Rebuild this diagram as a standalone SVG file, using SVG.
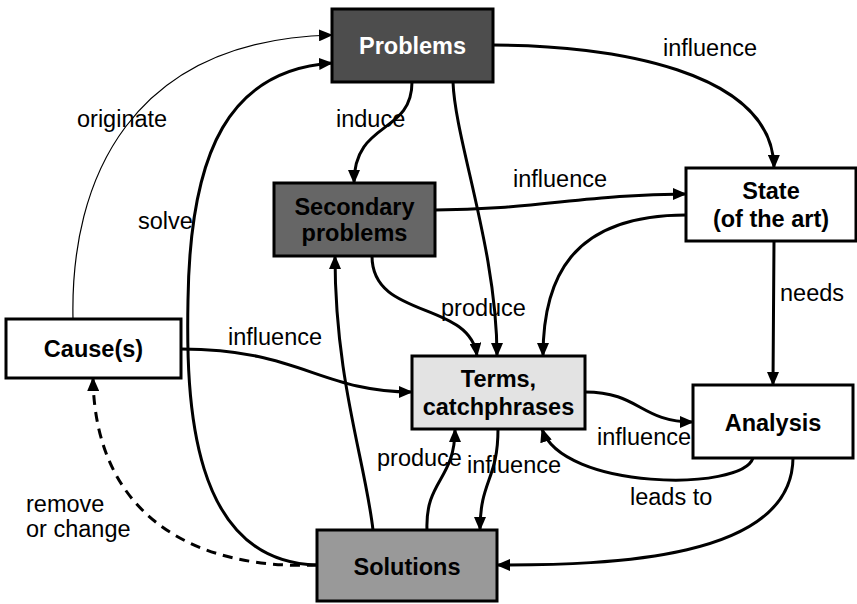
<svg xmlns="http://www.w3.org/2000/svg" width="857" height="604" viewBox="0 0 857 604">
  <defs>
    <marker id="arrow" viewBox="0 0 14 12" refX="13" refY="6" markerWidth="14" markerHeight="12" markerUnits="userSpaceOnUse" orient="auto">
      <path d="M0,0 L14,6 L0,12 Z" fill="#000"/>
    </marker>
    <style>
      .node rect { stroke: #000; stroke-width: 3; }
      .node text { font-family: "Liberation Sans", Arial, sans-serif; font-size: 23.5px; font-weight: bold; text-anchor: middle; fill: #000; }
      .edge { fill: none; stroke: #000; stroke-width: 3; marker-end: url(#arrow); }
      .thin { stroke-width: 1.2; }
      .dashed { stroke-dasharray: 10 7; }
      .label { font-family: "Liberation Sans", Arial, sans-serif; font-size: 23.5px; fill: #000; }
    </style>
  </defs>

  <rect width="857" height="604" fill="#fff"/>

  <!-- labels -->
  <g id="labels">
    <text class="label" x="663" y="56">influence</text>
    <text class="label" x="77" y="127">originate</text>
    <text class="label" x="336" y="127">induce</text>
    <text class="label" x="513" y="187">influence</text>
    <text class="label" x="138" y="229">solve</text>
    <text class="label" x="780" y="301">needs</text>
    <text class="label" x="441" y="316">produce</text>
    <text class="label" x="228" y="345">influence</text>
    <text class="label" x="597" y="445">influence</text>
    <text class="label" x="377" y="466">produce</text>
    <text class="label" x="467" y="473">influence</text>
    <text class="label" x="630" y="505">leads to</text>
    <text class="label" x="26" y="512">remove</text>
    <text class="label" x="26" y="537">or change</text>
  </g>

  <!-- connectors -->
  <g id="connectors">
    <path class="edge" d="M493,45 C610,45 773,70 774,168"/>
    <path class="edge" d="M412,82 C412,135 354,120 354,183"/>
    <path class="edge" d="M453,82 C455,140 497,250 497,356"/>
    <path class="edge" d="M435,210 C530,210 590,194 686,194"/>
    <path class="edge" d="M686,215 C570,215 543,280 543,356"/>
    <path class="edge" d="M774,241 C774,300 773,330 773,385"/>
    <path class="edge" d="M372,256 C372,320 470,300 477,356"/>
    <path class="edge" d="M181,349 C300,349 320,392 412,392"/>
    <path class="edge" d="M585,392 C640,392 640,422 693,422"/>
    <path class="edge" d="M753,458 C742,492 562,490 542,429"/>
    <path class="edge" d="M793,458 C792,560 610,565 497,565"/>
    <path class="edge" d="M498,429 C498,480 480,480 480,530"/>
    <path class="edge" d="M427,530 C425,480 455,480 455,429"/>
    <path class="edge" d="M373,530 C365,460 335,380 335,256"/>
    <path class="edge" d="M317,565 C190,562 186,400 188,300 C190,150 230,70 332,63"/>
    <path class="edge thin" d="M73,319 C70,180 130,40 332,35"/>
    <path class="edge dashed" d="M317,565 C200,570 95,520 93,378"/>
  </g>

  <!-- nodes -->
  <g id="problems" class="node">
    <rect x="332" y="9" width="161" height="73" fill="#4d4d4d"/>
    <text x="412.5" y="54" style="fill:#fff">Problems</text>
  </g>
  <g id="secondary-problems" class="node">
    <rect x="274" y="183" width="161" height="73" fill="#666666"/>
    <text x="354.5" y="215">Secondary</text>
    <text x="354.5" y="241">problems</text>
  </g>
  <g id="state" class="node">
    <rect x="686" y="168" width="170" height="73" fill="#fff"/>
    <text x="771" y="199">State</text>
    <text x="771" y="227">(of the art)</text>
  </g>
  <g id="cause" class="node">
    <rect x="6" y="319" width="175" height="59" fill="#fff"/>
    <text x="93.5" y="357">Cause(s)</text>
  </g>
  <g id="terms" class="node">
    <rect x="412" y="356" width="173" height="73" fill="#e3e3e3"/>
    <text x="498.5" y="387">Terms,</text>
    <text x="498.5" y="415">catchphrases</text>
  </g>
  <g id="analysis" class="node">
    <rect x="693" y="385" width="160" height="73" fill="#fff"/>
    <text x="773" y="431">Analysis</text>
  </g>
  <g id="solutions" class="node">
    <rect x="317" y="530" width="180" height="71" fill="#999999"/>
    <text x="407" y="575">Solutions</text>
  </g>
</svg>
